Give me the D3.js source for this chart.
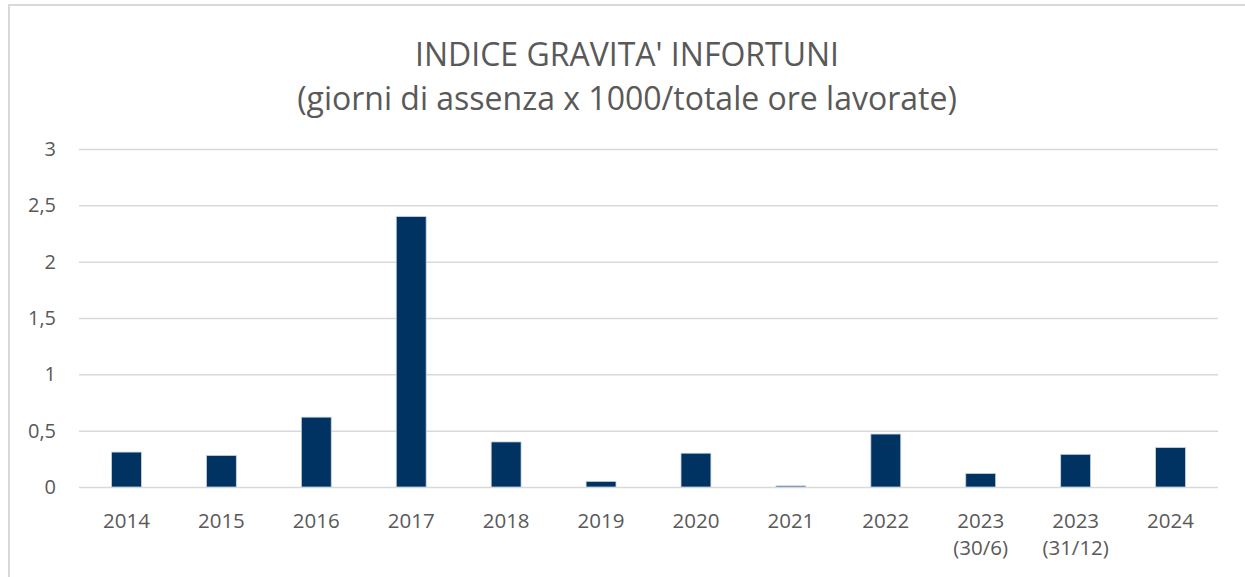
<!DOCTYPE html>
<html>
<head>
<meta charset="utf-8">
<script src="https://cdn.jsdelivr.net/npm/d3@7"></script>
<style>
  body { margin: 0; background: #fff; }
  svg { display: block; font-family: "Open Sans", "DejaVu Sans", sans-serif; }
</style>
</head>
<body>
<svg id="grafico" width="1245" height="577"></svg>
<script>
const categorie = ["2014", "2015", "2016", "2017", "2018", "2019", "2020", "2021", "2022", "2023\n(30/6)", "2023\n(31/12)", "2024"];
const valori = [0.31, 0.28, 0.62, 2.4, 0.40, 0.05, 0.30, 0.01, 0.47, 0.12, 0.29, 0.35];
const tickY = [0, 0.5, 1, 1.5, 2, 2.5, 3];
const titolo = ["INDICE GRAVITA' INFORTUNI", "(giorni di assenza x 1000/totale ore lavorate)"];

const svg = d3.select("#grafico");
const width = +svg.attr("width");
const height = +svg.attr("height");
const margine = { sx: 79, dx: 1218, alto: 149, basso: 487 };

// bordo del riquadro
svg.append("path")
  .attr("d", `M9,${height} V5 H${width}`)
  .attr("fill", "none")
  .attr("stroke", "#d9d9d9")
  .attr("stroke-width", 2);

const x = d3.scaleBand()
  .domain(categorie)
  .range([margine.sx, margine.dx])
  .paddingInner(0.685)
  .paddingOuter(0.3425);

const y = d3.scaleLinear()
  .domain([0, 3])
  .range([margine.basso, margine.alto]);

// griglia + etichette asse y
const assey = svg.append("g")
  .attr("transform", `translate(${margine.sx},0)`)
  .call(d3.axisLeft(y).tickValues(tickY).tickSize(-(margine.dx - margine.sx)).tickPadding(23)
    .tickFormat(d => String(d).replace(".", ",")));
assey.attr("font-family", null).attr("font-size", null);
assey.select(".domain").remove();
assey.selectAll(".tick line").attr("stroke", "#d9d9d9").attr("stroke-width", 1.5);
assey.selectAll(".tick text").attr("fill", "#595959").style("font-size", "20px");

svg.selectAll("rect.barra")
  .data(valori)
  .join("rect")
  .attr("class", "barra")
  .attr("x", (d, i) => x(categorie[i]))
  .attr("y", d => y(d))
  .attr("width", x.bandwidth())
  .attr("height", d => y(0) - y(d))
  .attr("fill", "#003262")
  .attr("stroke", "#c9d3df")
  .attr("stroke-width", 0.8);

// asse x
const assex = svg.append("g")
  .attr("transform", `translate(0,${margine.basso})`)
  .call(d3.axisBottom(x).tickSize(0).tickFormat(""));
assex.attr("font-family", null).attr("font-size", null);
assex.select(".domain").remove();
assex.selectAll(".tick").each(function(d) {
  const righe = d.split("\n");
  const t = d3.select(this).append("text")
    .attr("fill", "#595959")
    .attr("text-anchor", "middle")
    .style("font-size", "20.5px");
  righe.forEach((r, k) => {
    t.append("tspan").attr("x", 0).attr("y", 41 + k * 27).text(r);
  });
});

svg.selectAll("text.titolo")
  .data(titolo)
  .join("text")
  .attr("class", "titolo")
  .attr("x", 627)
  .attr("y", (d, i) => 66 + i * 44)
  .attr("text-anchor", "middle")
  .attr("fill", "#595959")
  .style("font-size", "32px")
  .text(d => d);
</script>
</body>
</html>
